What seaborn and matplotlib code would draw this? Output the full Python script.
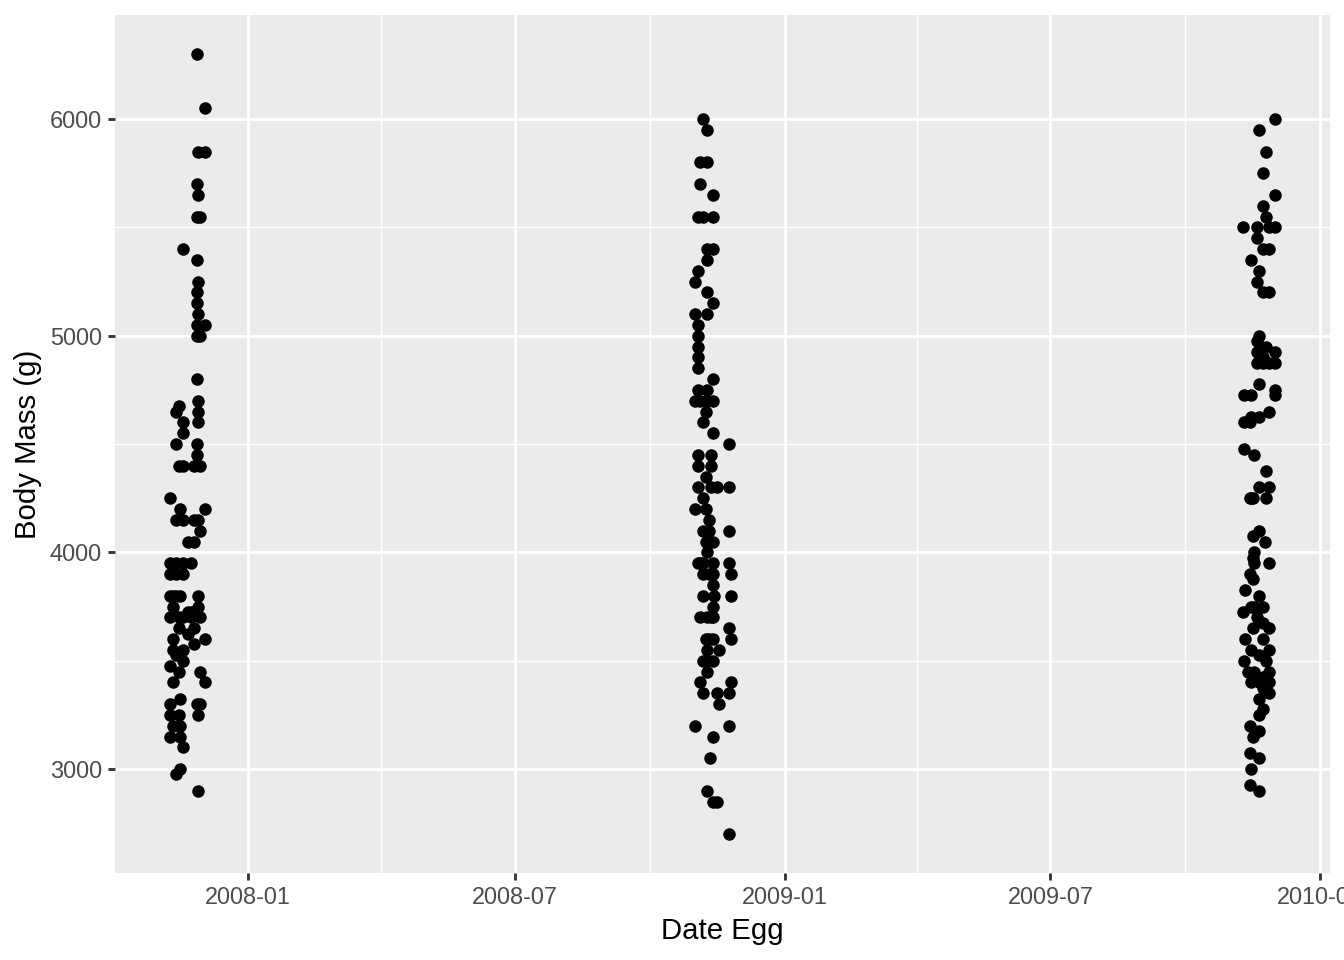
import matplotlib
matplotlib.use("Agg")
import matplotlib.dates as mdates
import matplotlib.pyplot as plt
import pandas as pd
import seaborn as sns
from matplotlib.ticker import MultipleLocator

# values, one list pair per breeding season
dates_2007 = [
    "2007-11-27", "2007-12-03", "2007-11-28", "2007-12-03", "2007-11-27", "2007-11-28", "2007-11-27", "2007-11-29",
    "2007-11-18", "2007-11-27", "2007-11-28", "2007-11-27", "2007-11-27", "2007-11-28", "2007-11-27", "2007-12-03",
    "2007-11-27", "2007-11-29", "2007-11-27", "2007-11-28", "2007-11-15", "2007-11-13", "2007-11-28", "2007-11-18",
    "2007-11-28", "2007-11-18", "2007-11-13", "2007-11-27", "2007-11-27", "2007-11-15", "2007-11-18", "2007-11-25",
    "2007-11-29", "2007-11-09", "2007-11-16", "2007-12-03", "2007-11-13", "2007-11-18", "2007-11-25", "2007-11-28",
    "2007-11-29", "2007-11-21", "2007-11-25", "2007-11-09", "2007-11-13", "2007-11-18", "2007-11-23", "2007-11-09",
    "2007-11-13", "2007-11-18", "2007-11-09", "2007-11-13", "2007-11-16", "2007-11-28", "2007-11-11", "2007-11-28",
    "2007-11-09", "2007-11-15", "2007-11-21", "2007-11-23", "2007-11-29", "2007-11-15", "2007-11-25", "2007-11-11",
    "2007-11-21", "2007-12-03", "2007-11-11", "2007-11-18", "2007-11-25", "2007-11-18", "2007-11-09", "2007-11-15",
    "2007-11-29", "2007-11-11", "2007-12-03", "2007-11-09", "2007-11-16", "2007-11-27", "2007-11-29", "2007-11-09",
    "2007-11-15", "2007-11-28", "2007-11-11", "2007-11-16", "2007-11-09", "2007-11-16", "2007-11-18", "2007-11-16",
    "2007-11-13", "2007-11-28", "2007-11-18", "2007-11-13", "2007-11-23", "2007-11-11",
]
mass_2007 = [
    6300, 6050, 5850, 5850, 5700, 5650, 5550, 5550,
    5400, 5350, 5250, 5200, 5150, 5100, 5050, 5050,
    5000, 5000, 4800, 4700, 4675, 4650, 4650, 4600,
    4600, 4550, 4500, 4500, 4450, 4400, 4400, 4400,
    4400, 4250, 4200, 4200, 4150, 4150, 4150, 4150,
    4100, 4050, 4050, 3950, 3950, 3950, 3950, 3900,
    3900, 3900, 3800, 3800, 3800, 3800, 3750, 3750,
    3700, 3700, 3725, 3725, 3700, 3650, 3650, 3600,
    3625, 3600, 3550, 3550, 3575, 3500, 3475, 3450,
    3450, 3400, 3400, 3300, 3325, 3300, 3300, 3250,
    3250, 3250, 3200, 3200, 3150, 3150, 3100, 3000,
    2975, 2900, 3700, 3525, 3700, 3800,
]

dates_2008 = [
    "2008-11-06", "2008-11-09", "2008-11-04", "2008-11-09", "2008-11-04", "2008-11-13", "2008-11-03", "2008-11-06",
    "2008-11-13", "2008-11-09", "2008-11-13", "2008-11-09", "2008-11-03", "2008-11-01", "2008-11-09", "2008-11-13",
    "2008-11-01", "2008-11-09", "2008-11-03", "2008-11-03", "2008-11-03", "2008-11-03", "2008-11-03", "2008-11-13",
    "2008-11-03", "2008-11-09", "2008-11-01", "2008-11-04", "2008-11-08", "2008-11-13", "2008-11-08", "2008-11-06",
    "2008-11-13", "2008-11-24", "2008-11-03", "2008-11-12", "2008-11-03", "2008-11-12", "2008-11-08", "2008-11-03",
    "2008-11-12", "2008-11-16", "2008-11-24", "2008-11-06", "2008-11-01", "2008-11-08", "2008-11-10", "2008-11-06",
    "2008-11-24", "2008-11-08", "2008-11-13", "2008-11-09", "2008-11-03", "2008-11-06", "2008-11-13", "2008-11-24",
    "2008-11-06", "2008-11-13", "2008-11-25", "2008-11-13", "2008-11-06", "2008-11-14", "2008-11-25", "2008-11-13",
    "2008-11-04", "2008-11-09", "2008-11-13", "2008-11-24", "2008-11-08", "2008-11-13", "2008-11-25", "2008-11-09",
    "2008-11-17", "2008-11-06", "2008-11-13", "2008-11-09", "2008-11-04", "2008-11-25", "2008-11-06", "2008-11-16",
    "2008-11-24", "2008-11-17", "2008-11-01", "2008-11-24", "2008-11-13", "2008-11-11", "2008-11-09", "2008-11-13",
    "2008-11-16", "2008-11-24", "2008-11-10", "2008-11-10", "2008-11-10", "2008-11-08", "2008-11-12", "2008-11-04",
]
mass_2008 = [
    6000, 5950, 5800, 5800, 5700, 5650, 5550, 5550,
    5550, 5400, 5400, 5350, 5300, 5250, 5200, 5150,
    5100, 5100, 5050, 5000, 4950, 4900, 4850, 4800,
    4750, 4750, 4700, 4700, 4700, 4700, 4650, 4600,
    4550, 4500, 4450, 4450, 4400, 4400, 4350, 4300,
    4300, 4300, 4300, 4250, 4200, 4200, 4150, 4100,
    4100, 4050, 4050, 4000, 3950, 3950, 3950, 3950,
    3900, 3900, 3900, 3850, 3800, 3800, 3800, 3750,
    3700, 3700, 3700, 3650, 3600, 3600, 3600, 3550,
    3550, 3500, 3500, 3450, 3400, 3400, 3350, 3350,
    3350, 3300, 3200, 3200, 3150, 3050, 2900, 2850,
    2850, 2700, 3900, 4100, 3600, 3500, 3700, 3950,
]

dates_2009 = [
    "2009-12-01", "2009-11-20", "2009-11-25", "2009-11-23", "2009-12-01", "2009-11-23", "2009-11-25", "2009-11-09",
    "2009-11-19", "2009-11-27", "2009-12-01", "2009-11-19", "2009-11-23", "2009-11-27", "2009-11-15", "2009-11-20",
    "2009-11-19", "2009-11-23", "2009-11-27", "2009-11-20", "2009-11-19", "2009-11-25", "2009-12-01", "2009-11-19",
    "2009-11-19", "2009-11-23", "2009-11-27", "2009-12-01", "2009-11-20", "2009-12-01", "2009-11-10", "2009-11-15",
    "2009-12-01", "2009-11-27", "2009-11-10", "2009-11-15", "2009-11-20", "2009-11-10", "2009-11-17", "2009-11-25",
    "2009-11-14", "2009-11-16", "2009-11-20", "2009-11-27", "2009-11-20", "2009-11-24", "2009-11-16", "2009-11-17",
    "2009-11-16", "2009-11-27", "2009-11-14", "2009-11-16", "2009-11-11", "2009-11-20", "2009-11-09", "2009-11-17",
    "2009-11-19", "2009-11-16", "2009-11-27", "2009-11-23", "2009-11-23", "2009-11-15", "2009-11-20", "2009-11-10",
    "2009-11-25", "2009-11-27", "2009-11-13", "2009-11-15", "2009-11-20", "2009-11-27", "2009-11-27", "2009-11-20",
    "2009-11-23", "2009-11-20", "2009-11-14", "2009-11-20", "2009-11-16", "2009-11-14", "2009-11-20", "2009-11-15",
    "2009-11-14", "2009-11-20", "2009-11-23", "2009-11-11", "2009-11-17", "2009-11-23", "2009-11-15", "2009-11-23",
    "2009-11-14", "2009-11-25", "2009-11-17", "2009-11-15", "2009-11-27", "2009-11-23",
]
mass_2009 = [
    6000, 5950, 5850, 5750, 5650, 5600, 5550, 5500,
    5500, 5500, 5500, 5450, 5400, 5400, 5350, 5300,
    5250, 5200, 5200, 5000, 4975, 4950, 4925, 4925,
    4875, 4875, 4875, 4875, 4775, 4750, 4725, 4725,
    4725, 4650, 4600, 4625, 4625, 4475, 4450, 4375,
    4250, 4250, 4300, 4300, 4100, 4050, 4075, 4000,
    3975, 3950, 3900, 3875, 3825, 3800, 3725, 3750,
    3700, 3650, 3650, 3675, 3600, 3550, 3525, 3500,
    3500, 3450, 3450, 3400, 3400, 3400, 3350, 3325,
    3275, 3250, 3200, 3175, 3150, 3075, 3050, 3000,
    2925, 2900, 3750, 3600, 3450, 3375, 4250, 4900,
    4600, 4250, 3950, 3750, 3550, 3425,
]

df = pd.DataFrame({
    "date_egg": pd.to_datetime(dates_2007 + dates_2008 + dates_2009),
    "body_mass_g": mass_2007 + mass_2008 + mass_2009,
})

sns.set_theme(style="darkgrid", rc={
    "axes.facecolor": "#EBEBEB",
    "grid.color": "white",
    "axes.edgecolor": "#EBEBEB",
})
plt.rcParams["font.family"] = ["Liberation Sans", "DejaVu Sans"]

fig = plt.figure(figsize=(7, 5), dpi=192)
ax = fig.add_axes([115 / 1344, 1 - 873 / 960, 1215 / 1344, 858 / 960])
sns.scatterplot(data=df, x="date_egg", y="body_mass_g", color="black", s=22, linewidth=0, ax=ax)
ax.margins(0.05)

ax.xaxis.set_major_locator(mdates.MonthLocator(bymonth=[1, 7]))
ax.xaxis.set_minor_locator(mdates.MonthLocator(bymonth=[4, 10]))
ax.xaxis.set_major_formatter(mdates.DateFormatter("%Y-%m"))
ax.yaxis.set_major_locator(MultipleLocator(1000))
ax.yaxis.set_minor_locator(MultipleLocator(500))

ax.grid(which="major", color="white", linewidth=1.07)
ax.grid(which="minor", color="white", linewidth=0.53)
ax.set_axisbelow(True)
for spine in ax.spines.values():
    spine.set_visible(False)
ax.tick_params(which="major", bottom=True, left=True, length=2.75, width=1.07, color="#333333",
               labelcolor="#4D4D4D", labelsize=8.8, pad=2.2)
ax.tick_params(which="minor", bottom=False, left=False, length=0)

ax.set_xlabel("Date Egg", fontsize=11, color="black", labelpad=2.75)
ax.set_ylabel("Body Mass (g)", fontsize=11, color="black", labelpad=2.75)

fig.savefig("out.png", dpi=192)
plt.close(fig)
